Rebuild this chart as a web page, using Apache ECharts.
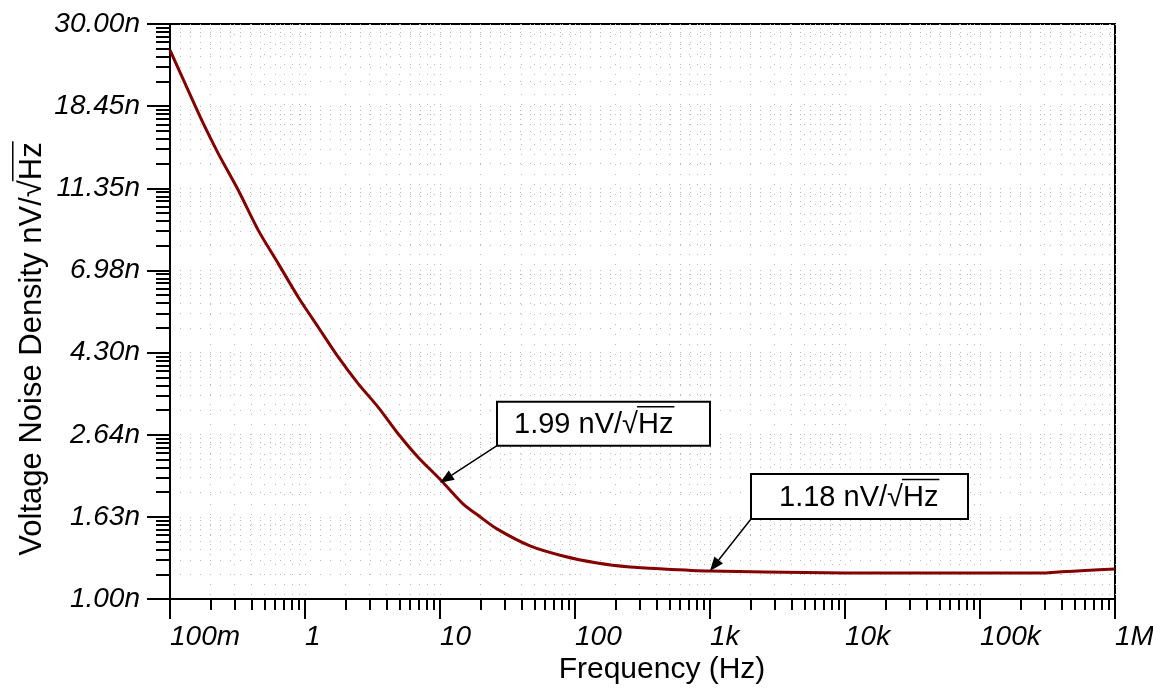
<!DOCTYPE html>
<html><head><meta charset="utf-8">
<script src="https://cdn.jsdelivr.net/npm/echarts@6/dist/echarts.min.js"></script>
<style>html,body{margin:0;padding:0;background:#fff}#c{width:1153px;height:688px}</style>
</head><body><div id="c"></div>
<script>
// ---- data ----
const freqHz  = [0.1, 0.1292, 0.1717, 0.2279, 0.3206, 0.451, 0.6342, 0.892, 1.254, 1.765, 2.483, 3.491, 4.911, 6.908, 10.29, 14.8, 19.8, 26.4, 46.4, 81.5, 146, 255, 449, 1000, 2550, 10000, 100000, 300000, 400000, 600000, 1000000];
const noiseNv = [25.71, 21.11, 16.99, 13.94, 11.22, 8.85, 7.27, 5.96, 4.99, 4.18, 3.57, 3.107, 2.654, 2.31, 2.01, 1.756, 1.626, 1.514, 1.369, 1.29, 1.238, 1.209, 1.195, 1.18, 1.173, 1.167, 1.167, 1.167, 1.175, 1.183, 1.195];
const xTickValues = [0.1, 1, 10, 100, 1000, 10000, 100000, 1000000];
const xTickLabels = ['100m', '1', '10', '100', '1k', '10k', '100k', '1M'];
const yTickValues = [1, 1.6256, 2.6426, 4.2958, 6.9834, 11.352, 18.454, 30];
const yTickLabels = ['1.00n', '1.63n', '2.64n', '4.30n', '6.98n', '11.35n', '18.45n', '30.00n'];
const annotFreq  = [10, 1000];
const annotValue = [1.99, 1.18];
const annotText  = ['1.99 nV/\u221AHz', '1.18 nV/\u221AHz'];
const xAxisName = 'Frequency (Hz)';
const yAxisName = 'Voltage Noise Density nV/\u221AHz';

// ---- derived tick positions (decade-style minor ticks) ----
const xMinor = [];
for (let i = 0; i < xTickValues.length - 1; i++) for (let m = 2; m <= 9; m++) xMinor.push(xTickValues[i] * m);
const yMinor = [];
for (let i = 0; i < yTickValues.length - 1; i++) {
  const r = yTickValues[i + 1] / yTickValues[i];
  for (let m = 2; m <= 9; m++) yMinor.push(yTickValues[i] * Math.pow(r, Math.log10(m)));
}
function lookup(v, vals, labels) {
  let best = 0, bd = Infinity;
  vals.forEach((t, i) => { const d = Math.abs(Math.log(v) - Math.log(t)); if (d < bd) { bd = d; best = i; } });
  return labels[best];
}

const FONT = '"Liberation Sans", Arial, Helvetica, sans-serif';
const grid = { left: 170, right: 38, top: 24, bottom: 89, show: true, borderColor: '#000', borderWidth: 2, outerBoundsMode: 'none', containLabel: false };
const gridLine = { show: true, lineStyle: { color: '#b8b8b8', type: [1, 9], width: 1 } };

const chart = echarts.init(document.getElementById('c'), null, { renderer: 'canvas' });
chart.setOption({
  animation: false,
  backgroundColor: '#fff',
  grid: grid,
  xAxis: [
    {
      type: 'log', logBase: 10, min: 0.1, max: 1000000, position: 'bottom',
      axisLine: { show: true, onZero: false, lineStyle: { color: '#000', width: 2 } },
      axisTick: { show: true, inside: false, length: 20, customValues: xTickValues, lineStyle: { color: '#000', width: 2 } },
      axisLabel: { show: true, customValues: xTickValues, formatter: v => lookup(v, xTickValues, xTickLabels),
        align: 'left', verticalAlign: 'top', margin: 24, fontStyle: 'italic', fontSize: 28, color: '#000', fontFamily: FONT },
      splitLine: gridLine, minorTick: { show: false }, minorSplitLine: { show: false }
    },
    {
      type: 'log', logBase: 10, min: 0.1, max: 1000000, position: 'bottom',
      axisLine: { show: false },
      axisTick: { show: true, inside: false, length: 11, customValues: xMinor, lineStyle: { color: '#000', width: 2 } },
      axisLabel: { show: false },
      splitLine: gridLine
    }
  ],
  yAxis: [
    {
      type: 'log', logBase: 10, min: 1, max: 30, position: 'left',
      axisLine: { show: true, onZero: false, lineStyle: { color: '#000', width: 2 } },
      axisTick: { show: true, inside: false, length: 23, customValues: yTickValues, lineStyle: { color: '#000', width: 2 } },
      axisLabel: { show: true, customValues: yTickValues, formatter: v => lookup(v, yTickValues, yTickLabels),
        align: 'right', verticalAlign: 'middle', margin: 30, fontStyle: 'italic', fontSize: 28, color: '#000', fontFamily: FONT },
      splitLine: gridLine
    },
    {
      type: 'log', logBase: 10, min: 1, max: 30, position: 'left',
      axisLine: { show: false },
      axisTick: { show: true, inside: false, length: 14, customValues: yMinor, lineStyle: { color: '#000', width: 2 } },
      axisLabel: { show: false },
      splitLine: gridLine
    }
  ],
  series: [{
    type: 'line', xAxisIndex: 0, yAxisIndex: 0, showSymbol: false, smooth: 0.25,
    lineStyle: { color: '#850000', width: 3, join: 'round' },
    data: freqHz.map((f, i) => [f, noiseNv[i]])
  }]
});

// ---- annotations and axis names (real text) ----
const mctx = document.createElement('canvas').getContext('2d');
function tw(str, size, style) { mctx.font = (style || 'normal') + ' normal ' + size + 'px ' + FONT; return mctx.measureText(str).width; }

const g = [];
const boxes = [
  { dx: 57, dy: -37, w: 213, h: 44, pad: 17 },
  { dx: 41, dy: -52, w: 217, h: 45, pad: 28 }
];
const AFS = 29;
annotFreq.forEach((f, i) => {
  const tip = chart.convertToPixel({ gridIndex: 0 }, [f, annotValue[i]]);
  const b = boxes[i];
  const x0 = tip[0] + b.dx, yb = tip[1] + b.dy;
  g.push({ type: 'rect', shape: { x: x0, y: yb - b.h, width: b.w, height: b.h }, style: { fill: '#fff', stroke: '#000', lineWidth: 2 }, z: 100 });
  const cy = yb - b.h / 2;
  const tx = x0 + b.pad;
  g.push({ type: 'text', x: tx, y: cy + 1, style: { text: annotText[i], fontSize: AFS, fontFamily: FONT, fill: '#000', align: 'left', verticalAlign: 'middle' }, z: 101 });
  const pre = annotText[i].slice(0, annotText[i].indexOf('\u221A') + 1);
  const w1 = tw(pre, AFS), wAll = tw(annotText[i], AFS);
  g.push({ type: 'line', shape: { x1: tx + w1 - 1, y1: cy + 1 - 0.62 * AFS, x2: tx + wAll + 1, y2: cy + 1 - 0.62 * AFS }, style: { stroke: '#000', lineWidth: 1.5 }, z: 101 });
  // arrow
  const sx = x0, sy = yb;
  const ang = Math.atan2(tip[1] - sy, tip[0] - sx);
  const L = 14, W = 5.5;
  const bx = tip[0] - L * Math.cos(ang), by = tip[1] - L * Math.sin(ang);
  g.push({ type: 'line', shape: { x1: sx, y1: sy, x2: bx, y2: by }, style: { stroke: '#000', lineWidth: 1.5 }, z: 100 });
  g.push({ type: 'polygon', shape: { points: [[tip[0], tip[1]], [bx + W * Math.sin(ang), by - W * Math.cos(ang)], [bx - W * Math.sin(ang), by + W * Math.cos(ang)]] }, style: { fill: '#000' }, z: 100 });
});

// x axis name
const XFS = 30;
g.push({ type: 'text', x: 662, y: 670, style: { text: xAxisName, fontSize: XFS, fontFamily: FONT, fill: '#000', align: 'center', verticalAlign: 'middle' } });
// y axis name (rotated) with overline over Hz
const YFS = 31;
const yPre = yAxisName.slice(0, yAxisName.indexOf('\u221A') + 1);
const yW = tw(yAxisName, YFS), yW1 = tw(yPre, YFS);
g.push({
  type: 'group', x: 32, y: 349, rotation: Math.PI / 2,
  children: [
    { type: 'text', x: 0, y: 0, style: { text: yAxisName, fontSize: YFS, fontFamily: FONT, fill: '#000', align: 'center', verticalAlign: 'middle' } },
    { type: 'line', shape: { x1: -yW / 2 + yW1 - 1, y1: -0.62 * YFS, x2: yW / 2 + 1, y2: -0.62 * YFS }, style: { stroke: '#000', lineWidth: 1.5 } }
  ]
});
chart.setOption({ graphic: g });
</script>
</body></html>
